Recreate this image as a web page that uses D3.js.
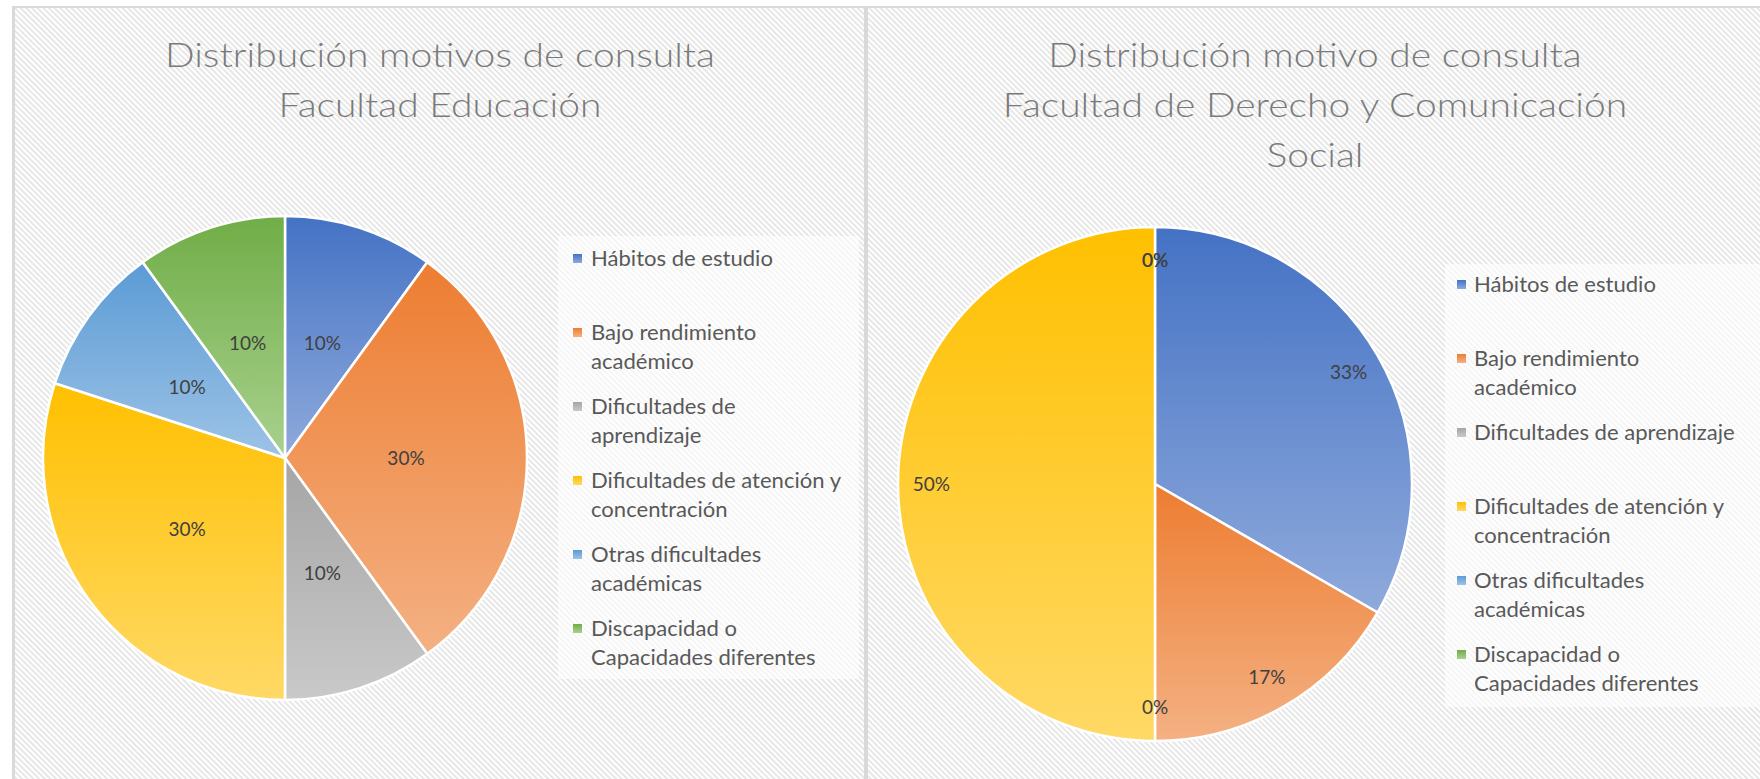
<!DOCTYPE html>
<html><head><meta charset="utf-8">
<script src="https://cdn.jsdelivr.net/npm/d3@7"></script>
<style>body{margin:0;background:#fff;} svg{display:block;}</style>
</head><body>
<svg id="c" width="1760" height="779"></svg>
<script>
const categories = ["Hábitos de estudio","Bajo rendimiento académico","Dificultades de aprendizaje","Dificultades de atención y concentración","Otras dificultades académicas","Discapacidad o Capacidades diferentes"];
const educacionValues = [1,3,1,3,1,1];
const derechoValues = [2,1,0,3,0,0];
const educacionTitle = ["Distribución motivos de consulta","Facultad Educación"];
const derechoTitle = ["Distribución motivo de consulta","Facultad de Derecho y Comunicación","Social"];
const educacionLegendLines = [["Hábitos de estudio"],["Bajo rendimiento","académico"],["Dificultades de","aprendizaje"],["Dificultades de atención y","concentración"],["Otras dificultades","académicas"],["Discapacidad o","Capacidades diferentes"]];
const derechoLegendLines = [["Hábitos de estudio"],["Bajo rendimiento","académico"],["Dificultades de aprendizaje"],["Dificultades de atención y","concentración"],["Otras dificultades","académicas"],["Discapacidad o","Capacidades diferentes"]];
const colorsTop = ["#4472C4","#ED7D31","#A5A5A5","#FFC000","#5B9BD5","#70AD47"];
const colorsBottom = ["#8FAADC","#F4B183","#C9C9C9","#FFD966","#9DC3E6","#A9D18E"];

const svg = d3.select("#c");
const FONT = "Lato, 'Open Sans', sans-serif";

function measure(text, weight, size){
  const t = svg.append("text").attr("font-family",FONT).attr("font-weight",weight).attr("font-size",size).text(text);
  const w = t.node().getComputedTextLength(); t.remove();
  return w;
}

const defs = svg.append("defs");
const pat = defs.append("pattern").attr("id","hatch").attr("patternUnits","userSpaceOnUse")
  .attr("width",4).attr("height",4).attr("patternTransform","rotate(-45)");
pat.append("rect").attr("width",4).attr("height",4).attr("fill","#ffffff");
pat.append("rect").attr("width",1.7).attr("height",4).attr("fill","#e3e3e3");

categories.forEach((c,i)=>{
  const g = defs.append("linearGradient").attr("id","grad"+i).attr("x1",0).attr("y1",0).attr("x2",0).attr("y2",1);
  g.append("stop").attr("offset","0%").attr("stop-color",colorsTop[i]);
  g.append("stop").attr("offset","100%").attr("stop-color",colorsBottom[i]);
});

// background & borders
svg.append("rect").attr("x",0).attr("y",0).attr("width",1760).attr("height",779).attr("fill","#fff");
svg.append("rect").attr("x",12).attr("y",6).attr("width",1748).attr("height",773).attr("fill","url(#hatch)");
svg.append("rect").attr("x",12).attr("y",6).attr("width",1748).attr("height",2).attr("fill","#d9d9d9");
svg.append("rect").attr("x",12).attr("y",6).attr("width",3).attr("height",773).attr("fill","#d9d9d9");
svg.append("rect").attr("x",864).attr("y",6).attr("width",4).attr("height",773).attr("fill","#d9d9d9");

const titleSize = 33, titleWeight = 300;
const titleScale = 550 / measure(educacionTitle[0], titleWeight, titleSize);
const legendSize = 100 * 182 / measure(categories[0], 400, 100);

const charts = [
  {values: educacionValues, title: educacionTitle, legend: educacionLegendLines,
   cx: 285, cy: 458, r: 242, labelFrac: 0.5, titleCx: 440, titleY: [67,117],
   box: {x:558, y:236, w:301, h:443}, markerX: 573, textX: 591, firstBaseline: 266},
  {values: derechoValues, title: derechoTitle, legend: derechoLegendLines,
   cx: 1155, cy: 484, r: 257, labelFrac: 0.87, titleCx: 1315, titleY: [67,117,167],
   box: {x:1445, y:264, w:315, h:443}, markerX: 1457, textX: 1474, firstBaseline: 292}
];

const slotH = 74, lineH = 29;

charts.forEach(ch => {
  const total = d3.sum(ch.values);
  const pie = d3.pie().sort(null).value(d=>d.v).startAngle(0).endAngle(2*Math.PI);
  const arcs = pie(ch.values.map((v,i)=>({v, i})));
  const arc = d3.arc().innerRadius(0).outerRadius(ch.r);
  const labelArc = d3.arc().innerRadius(ch.r*ch.labelFrac).outerRadius(ch.r*ch.labelFrac);
  const g = svg.append("g").attr("transform",`translate(${ch.cx},${ch.cy})`);
  g.selectAll("path").data(arcs.filter(a=>a.data.v>0)).join("path")
    .attr("d",arc).attr("fill",a=>`url(#grad${a.data.i})`)
    .attr("stroke","#fff").attr("stroke-width",2.5).attr("stroke-linejoin","round");
  g.selectAll("text").data(arcs).join("text")
    .attr("transform",a=>`translate(${labelArc.centroid(a)})`)
    .attr("text-anchor","middle").attr("dy","0.35em")
    .attr("font-family",FONT).attr("font-size",19).attr("fill","#404040")
    .text(a=>Math.round(a.data.v/total*100)+"%");

  // title (condensed to match reference widths)
  const tg = svg.append("g");
  ch.title.forEach((line,k)=>{
    const w = measure(line, titleWeight, titleSize) * titleScale;
    tg.append("text").attr("x",ch.titleCx).attr("y",ch.titleY[k]).attr("text-anchor","middle")
      .attr("font-family",FONT).attr("font-weight",titleWeight).attr("font-size",titleSize)
      .attr("textLength",w).attr("lengthAdjust","spacingAndGlyphs")
      .attr("fill","#7a7a7a").text(line);
  });

  // legend
  svg.append("rect").attr("x",ch.box.x).attr("y",ch.box.y).attr("width",ch.box.w).attr("height",ch.box.h)
    .attr("fill","#fff").attr("fill-opacity",0.6);
  const lg = svg.append("g");
  ch.legend.forEach((lines,i)=>{
    const base = ch.firstBaseline + i*slotH;
    lg.append("rect").attr("x",ch.markerX).attr("y",base-12).attr("width",9).attr("height",9)
      .attr("fill",`url(#grad${i})`);
    lines.forEach((ln,k)=>{
      lg.append("text").attr("x",ch.textX).attr("y",base + k*lineH)
        .attr("font-family",FONT).attr("font-size",legendSize).attr("fill","#595959").text(ln);
    });
  });
});
</script>
</body></html>
